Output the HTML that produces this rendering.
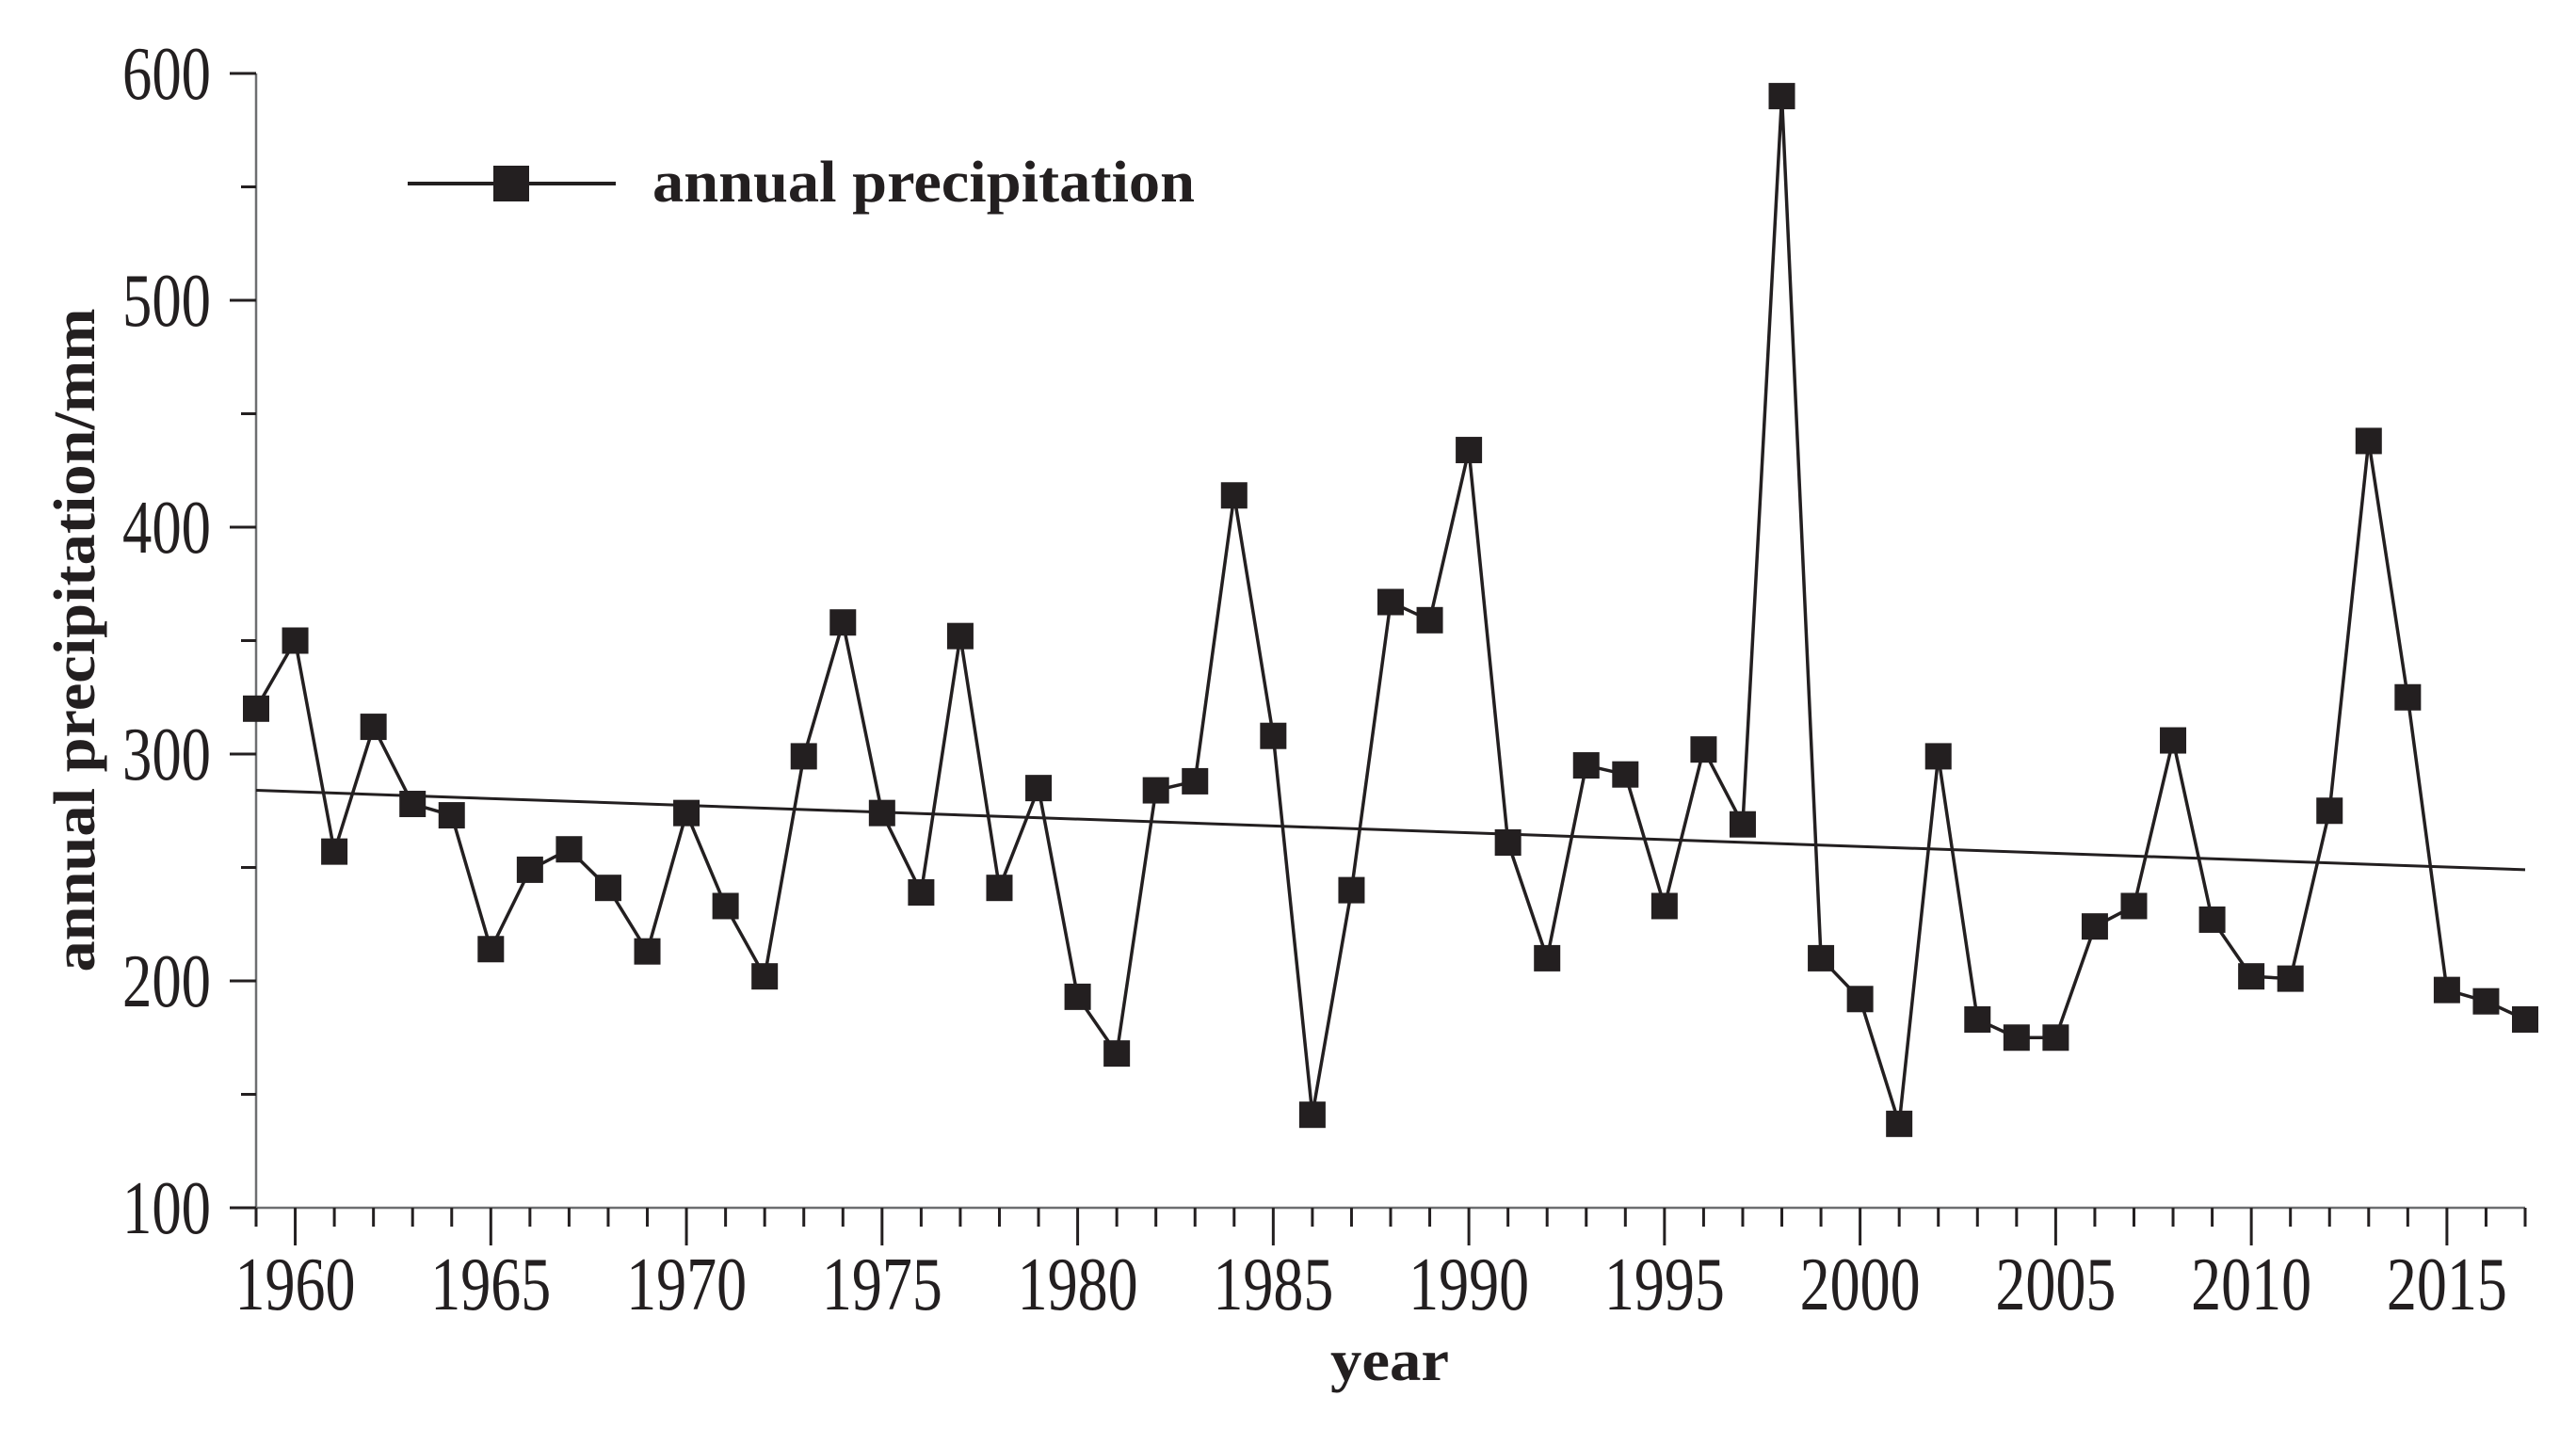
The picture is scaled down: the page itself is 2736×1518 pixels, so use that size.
<!DOCTYPE html>
<html><head><meta charset="utf-8"><style>
html,body{margin:0;padding:0;background:#fff;}
svg{display:block;}
text{font-family:"Liberation Serif",serif;fill:#231f20;}
</style></head><body>
<svg id="chart" width="2736" height="1518" viewBox="0 0 2736 1518" xmlns="http://www.w3.org/2000/svg">
<g id="axes"></g>
<g id="series"></g>
<g>
<line x1="433" y1="195" x2="654" y2="195" stroke="#231f20" stroke-width="4"/>
<rect x="524" y="176" width="38" height="38" fill="#231f20"/>
<text x="693" y="214" font-size="62" font-weight="bold" textLength="576" lengthAdjust="spacingAndGlyphs">annual precipitation</text>
</g>
<text x="1476" y="1466" font-size="62" font-weight="bold" text-anchor="middle" textLength="126" lengthAdjust="spacingAndGlyphs">year</text>
<text transform="translate(100,680) rotate(-90)" font-size="62" font-weight="bold" text-anchor="middle" textLength="705" lengthAdjust="spacingAndGlyphs">annual precipitation/mm</text>
</svg>
<script>
const years = [];
for (let y = 1959; y <= 2017; y++) years.push(y);
const precipitation = [320,350,257,312,278,273,214,249,258,241,213,274,233,202,299,358,274,239,352,241,285,193,168,284,288,414,308,141,240,367,359,434,261,210,295,291,233,302,269,590,210,192,137,299,183,175,175,224,233,306,227,202,201,275,438,325,196,191,183];
const trendYears = [1959, 2017];
const trendValues = [284, 249];
const yTicks = [100,200,300,400,500,600];
const xTickLabels = [1960,1965,1970,1975,1980,1985,1990,1995,2000,2005,2010,2015];

const NS = "http://www.w3.org/2000/svg";
const X0 = 272, X1 = 2682, Y0 = 1283, Y1 = 78;
const xMin = 1959, xMax = 2017, yMin = 100, yMax = 600;
const xs = v => X0 + (v - xMin) / (xMax - xMin) * (X1 - X0);
const ys = v => Y0 - (v - yMin) / (yMax - yMin) * (Y0 - Y1);
function mk(tag, attrs, parent) {
  const e = document.createElementNS(NS, tag);
  for (const k in attrs) e.setAttribute(k, attrs[k]);
  parent.appendChild(e);
  return e;
}
const axes = document.getElementById('axes');
const ser = document.getElementById('series');
const AX = "#6d6e70";
let e = mk('line', {x1:X0, y1:Y1, x2:X0, y2:Y0, stroke:AX, 'stroke-width':2.5}, axes);


e = mk('line', {x1:X0, y1:Y0, x2:X1, y2:Y0, stroke:AX, 'stroke-width':2.5}, axes);


for (let v = yMin; v <= yMax; v += 50) {
  const major = v % 100 === 0;
  e = mk('line', {x1:X0 - (major ? 28 : 16), y1:ys(v), x2:X0, y2:ys(v), stroke:"#231f20", 'stroke-width':3}, axes);
  
  
}
yTicks.forEach(v => {
  const t = mk('text', {x:224, y:ys(v) + 27, 'font-size':80, 'text-anchor':'end', textLength:94, lengthAdjust:'spacingAndGlyphs'}, axes);
  t.textContent = v;
  
  
});
for (let y = xMin; y <= xMax; y++) {
  const major = y % 5 === 0;
  e = mk('line', {x1:xs(y), y1:Y0, x2:xs(y), y2:Y0 + (major ? 40 : 20), stroke:"#231f20", 'stroke-width':3}, axes);
  
  
}
xTickLabels.forEach(y => {
  const t = mk('text', {x:xs(y), y:1391, 'font-size':80, 'text-anchor':'middle', textLength:128, lengthAdjust:'spacingAndGlyphs'}, axes);
  t.textContent = y;
  
  
});
e = mk('line', {x1:xs(trendYears[0]), y1:ys(trendValues[0]), x2:xs(trendYears[1]), y2:ys(trendValues[1]), stroke:"#231f20", 'stroke-width':3}, ser);


const pts = years.map((y, i) => xs(y) + ',' + ys(precipitation[i])).join(' ');
e = mk('polyline', {points:pts, fill:'none', stroke:"#231f20", 'stroke-width':3.5, 'stroke-linejoin':'miter'}, ser);


years.forEach((y, i) => {
  const r = mk('rect', {x:xs(y) - 14, y:ys(precipitation[i]) - 14, width:28, height:28, fill:"#231f20"}, ser);
  
  
});
</script>
</body></html>
